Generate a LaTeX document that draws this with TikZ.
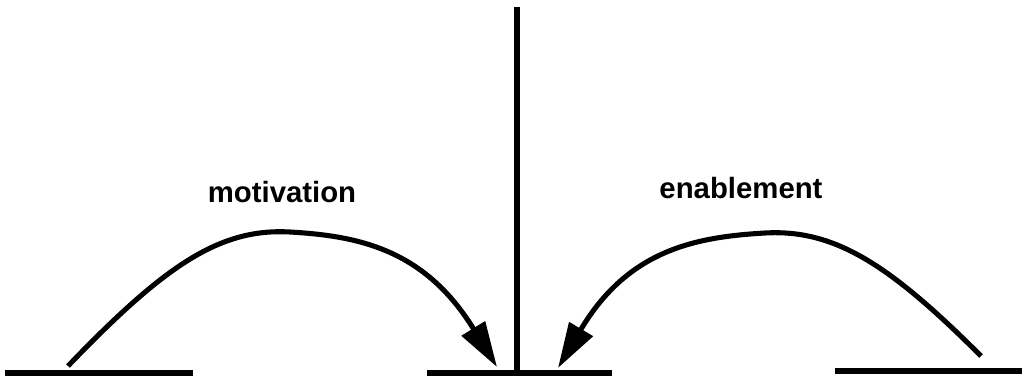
\documentclass[tikz,border=0pt]{standalone}
\usepackage{fontspec}
\setmainfont{Liberation Sans}
\usetikzlibrary{arrows.meta}

\begin{document}
\begin{tikzpicture}[x=0.75pt, y=-0.75pt,
    base/.style={line width=4.5pt},
    stem/.style={line width=4pt},
    arc/.style={line width=3.8pt, -{Triangle[length=34pt, width=20pt]}},
    lbl/.style={font=\fontsize{22}{26}\selectfont\bfseries, inner sep=0pt}
  ]
    \useasboundingbox (0,0) rectangle (1026,379);

    %% Grundlinien
    \draw[base] (5,373) -- (193,373);
    \draw[base] (427,373) -- (612,373);
    \draw[base] (835,371) -- (1022,371);

    %% Mittelstrich
    \coordinate (top) at (517,7);
    \coordinate (foot) at (517,373);
    \draw[stem] (top) -- (foot);

    %% Beschriftungen
    \node[lbl] (mot) at (282,192) {motivation};
    \node[lbl] (ena) at (741,188) {enablement};

    %% Bögen
    \coordinate (motS) at (68,366);
    \coordinate (motT) at (497,367);
    \coordinate (enaS) at (981,356);
    \coordinate (enaT) at (558,368);
    \draw[arc] (motS) .. controls (165,265) and (220,228) .. (290,232)
      .. controls (360,236) and (425,250) .. (motT);
    \draw[arc] (enaS) .. controls (890,265) and (835,229) .. (765,233)
      .. controls (695,237) and (628,250) .. (enaT);
\end{tikzpicture}
\end{document}
